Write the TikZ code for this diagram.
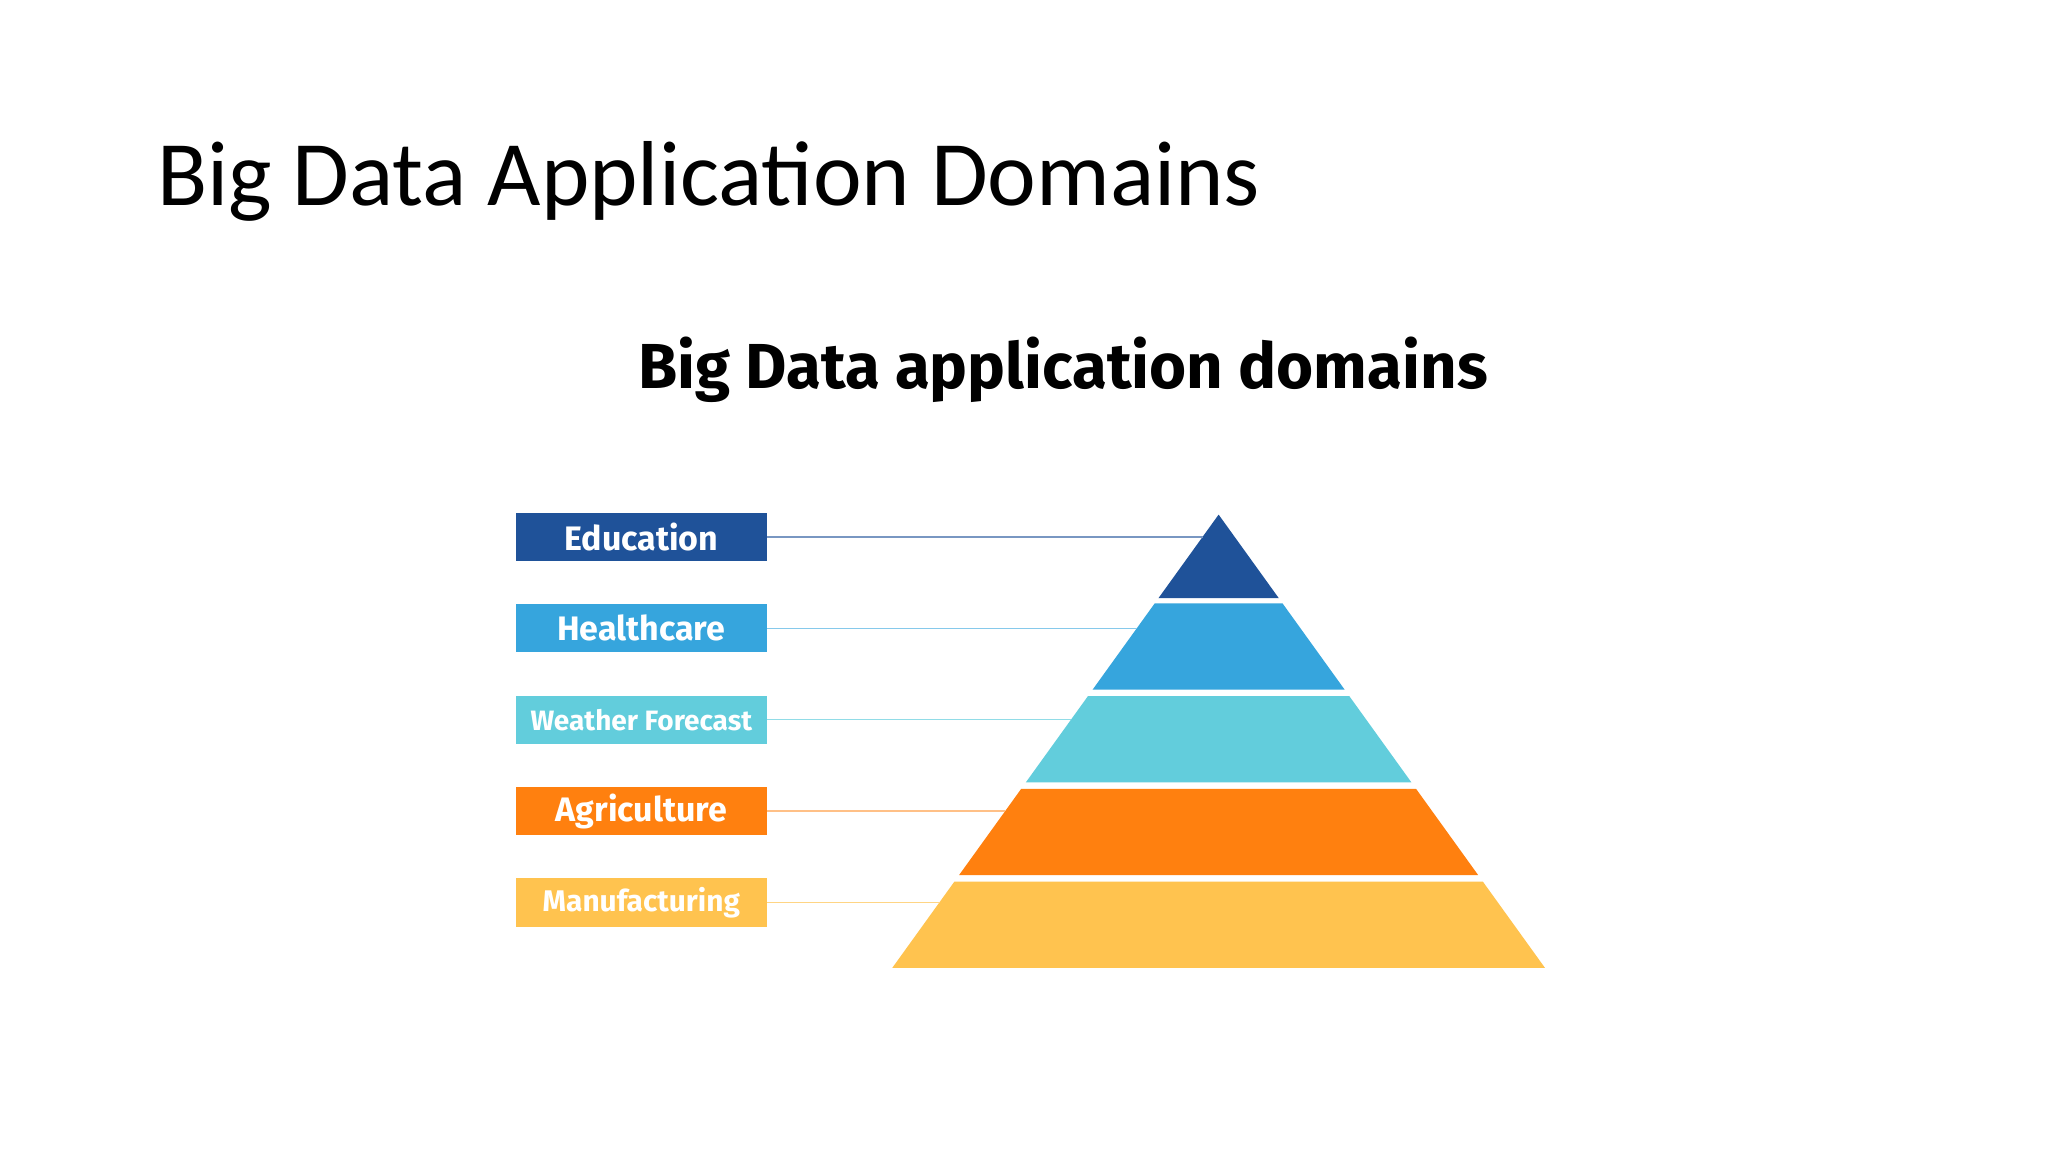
\documentclass[tikz,border=0pt]{standalone}
\usepackage{fontspec}
\setmainfont{Carlito}
\newfontfamily\fira{Fira Sans}
\definecolor{cA}{HTML}{1F5299}
\definecolor{cB}{HTML}{36A5DD}
\definecolor{cC}{HTML}{62CDDC}
\definecolor{cD}{HTML}{FF800F}
\definecolor{cE}{HTML}{FFC34F}
\begin{document}
\begin{tikzpicture}[x=0.02cm,y=-0.02cm,
  lab/.style={minimum width=192*0.02cm,minimum height=37*0.02cm,inner sep=0,text=white,font=\fira\bfseries\fontsize{14.8}{16}\selectfont},
  conn/.style={line width=0.6pt}]
\useasboundingbox[fill=white] (0,0) rectangle (1568,882);
\node[anchor=base west,inner sep=0,font=\fontsize{40.2}{46}\selectfont] (title) at (120,157) {Big Data Application Domains};
\node[inner sep=0,font=\fira\bfseries\fontsize{27.7}{32}\selectfont] (sub) at (814,283) {Big Data application domains};
% pyramid: apex (933,394), half-width slope 0.72
\def\py#1#2#3{\fill[#3] ({933-0.72*(#1-394)},#1) -- ({933+0.72*(#1-394)},#1) -- ({933+0.72*(#2-394)},#2) -- ({933-0.72*(#2-394)},#2) -- cycle;}
\py{394}{458}{cA}
\py{462}{528}{cB}
\py{533}{599}{cC}
\py{604}{670}{cD}
\py{675}{741}{cE}
\coordinate (p1) at ({933-0.72*(411-394)},411);
\coordinate (p2) at ({933-0.72*(481-394)},481);
\coordinate (p3) at ({933-0.72*(551-394)},551);
\coordinate (p4) at ({933-0.72*(621-394)},621);
\coordinate (p5) at ({933-0.72*(691-394)},691);
\node[lab,fill=cA] (b1) at (491,411) {Education};
\node[lab,fill=cB] (b2) at (491,481) {Healthcare};
\node[lab,fill=cC,font=\fira\bfseries\fontsize{12.2}{14}\selectfont] (b3) at (491,551) {Weather Forecast};
\node[lab,fill=cD] (b4) at (491,621) {Agriculture};
\node[lab,fill=cE,font=\fira\bfseries\fontsize{13}{14}\selectfont] (b5) at (491,691) {Manufacturing};
\draw[conn,cA!60] (b1.east) -- (p1);
\draw[conn,cB!60] (b2.east) -- (p2);
\draw[conn,cC!70] (b3.east) -- (p3);
\draw[conn,cD!50] (b4.east) -- (p4);
\draw[conn,cE!70] (b5.east) -- (p5);
\end{tikzpicture}
\end{document}
